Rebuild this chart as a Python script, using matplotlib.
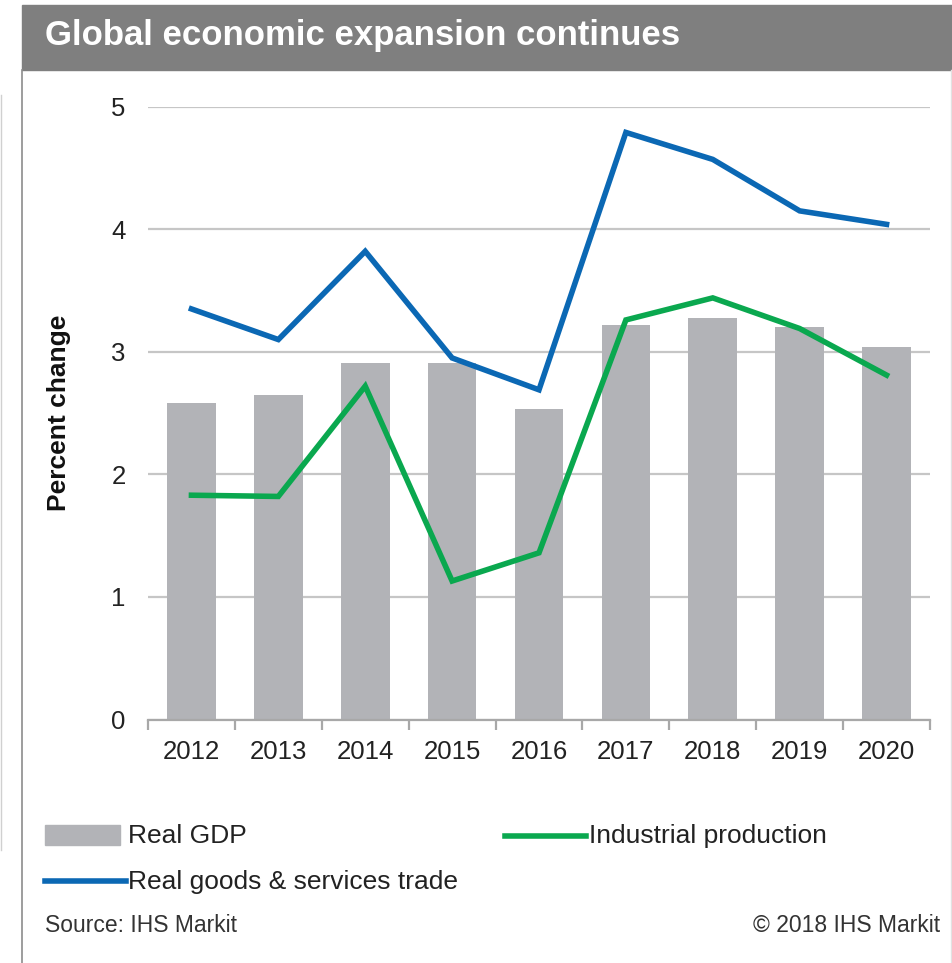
import numpy as np
import matplotlib.pyplot as plt
from matplotlib.patches import Rectangle
from matplotlib.lines import Line2D

plt.rcParams['font.family'] = ['Liberation Sans', 'DejaVu Sans']

years = ["2012", "2013", "2014", "2015", "2016", "2017", "2018", "2019", "2020"]
real_gdp = [2.58, 2.65, 2.91, 2.91, 2.53, 3.22, 3.28, 3.20, 3.04]
industrial_production = [1.83, 1.82, 2.72, 1.13, 1.36, 3.26, 3.44, 3.19, 2.81]
goods_services_trade = [3.35, 3.10, 3.82, 2.95, 2.69, 4.79, 4.57, 4.15, 4.04]

GDP_GREY = "#b2b3b7"
IP_GREEN = "#0aa84f"
TRADE_BLUE = "#0b68b4"
TEXT = "#222222"

fig = plt.figure(figsize=(9.53, 9.63), dpi=100)
W, H = 953, 963

def fx(px):
    return px / W

def fy(py):
    return 1 - py / H

# header band and outer frame
fig.patches.append(Rectangle((fx(22), fy(70)), 1 - fx(22), fy(5) - fy(70),
                             transform=fig.transFigure, color="#7f7f7f", zorder=0))
fig.add_artist(Line2D([fx(22), fx(22)], [fy(70), 0], color="#8c8c8c", lw=1.2))
fig.add_artist(Line2D([fx(951), fx(951)], [fy(70), 0], color="#e2e2e2", lw=1.0))
fig.add_artist(Line2D([fx(1), fx(1)], [fy(95), fy(850)], color="#d0d0d0", lw=1.0))
fig.text(fx(45), fy(36), "Global economic expansion continues", color="white",
         fontsize=25, fontweight="bold", va="center", ha="left")

ax = fig.add_axes([fx(148), fy(719.5), fx(930) - fx(148), fy(106.7) - fy(719.5)])
x = np.arange(len(years))

ax.bar(x, real_gdp, width=0.56, color=GDP_GREY, zorder=2)
ax.plot(x, industrial_production, color=IP_GREEN, lw=4, zorder=3, solid_joinstyle="miter")
ax.plot(x, goods_services_trade, color=TRADE_BLUE, lw=4, zorder=3, solid_joinstyle="miter")

ax.set_xlim(-0.5, len(years) - 0.5)
ax.set_ylim(0, 5)
ax.set_yticks([0, 1, 2, 3, 4, 5])
ax.yaxis.grid(True, color="#c6c6c6", lw=1.6, zorder=0)
ax.set_axisbelow(True)

for side in ["top", "right", "left"]:
    ax.spines[side].set_visible(False)
ax.spines["bottom"].set_color("#a8a8a8")
ax.spines["bottom"].set_linewidth(1.6)

ax.set_xticks(x)
ax.set_xticklabels(years)
ax.set_xticks(np.arange(-0.5, len(years)), minor=True)
ax.tick_params(axis="x", which="major", length=0, pad=15, labelsize=18.5, labelcolor=TEXT)
ax.tick_params(axis="x", which="minor", length=7, width=1.6, color="#a8a8a8", direction="out")
ax.tick_params(axis="y", length=0, pad=16, labelsize=18.5, labelcolor=TEXT)

ax.set_ylabel("Percent change", fontsize=19, fontweight="bold", color="#111111")
ax.yaxis.set_label_coords(fx(71 - 148) / (fx(930) - fx(148)), 0.5)

# legend rows
fig.patches.append(Rectangle((fx(45), fy(845)), fx(120) - fx(45), fy(825) - fy(845),
                             transform=fig.transFigure, color=GDP_GREY))
fig.text(fx(128), fy(836), "Real GDP", fontsize=19, va="center", color=TEXT)
fig.add_artist(Line2D([fx(505), fx(586)], [fy(836), fy(836)], color=IP_GREEN, lw=4))
fig.text(fx(589), fy(836), "Industrial production", fontsize=19, va="center", color=TEXT)
fig.add_artist(Line2D([fx(45), fx(126)], [fy(881), fy(881)], color=TRADE_BLUE, lw=4))
fig.text(fx(128), fy(882), "Real goods & services trade", fontsize=19, va="center", color=TEXT)

fig.text(fx(45), fy(925), "Source: IHS Markit", fontsize=16.5, va="center", color="#333333")
fig.text(fx(940), fy(925), "\u00a9 2018 IHS Markit", fontsize=16.5, va="center", ha="right",
         color="#333333")

fig.savefig("out.png", dpi=100)
